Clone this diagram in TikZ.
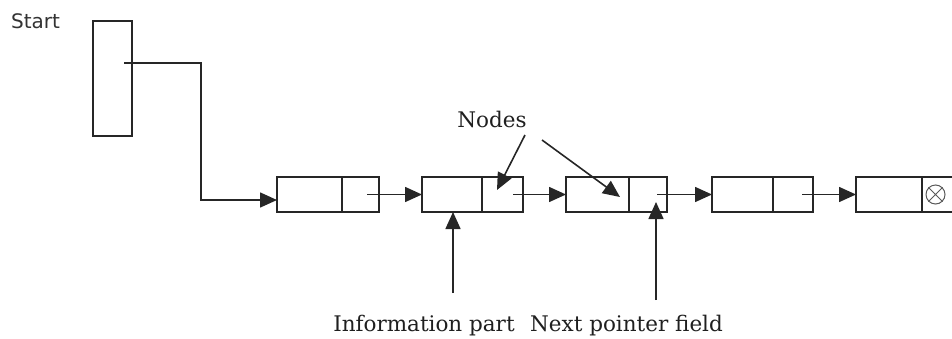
\documentclass[tikz,border=0pt]{standalone}
\usepackage{fontspec}
\setmainfont{DejaVu Serif}
\newfontfamily\startfont{DejaVu Sans}
\usetikzlibrary{arrows.meta}
\begin{document}
\begin{tikzpicture}[x=1pt,y=-1pt,
  ln/.style={line width=1.6pt,draw=black!85},
  cell/.style={ln,rectangle,inner sep=0pt,outer sep=0pt,minimum height=35pt,anchor=north west},
  arr/.style={ln,-{Triangle[length=17pt,width=15pt]}},
  lbl/.style={font=\fontsize{21.5}{25}\selectfont,text=black!88,inner sep=0pt,anchor=base}]
\useasboundingbox (0,0) rectangle (952,338);
\clip (0,0) rectangle (952,338);
% start pointer
\node[cell,minimum width=39pt,minimum height=115pt] (start) at (93,21) {};
\node[font=\startfont\fontsize{20}{24}\selectfont,text=black!80,inner sep=0pt,anchor=base] (startlbl) at (35.5,28) {Start};
% list nodes
\node[cell,minimum width=65pt] (n1i) at (277,177) {};
\node[cell,minimum width=37pt] (n1p) at (342,177) {};
\node[cell,minimum width=60pt] (n2i) at (422,177) {};
\node[cell,minimum width=41pt] (n2p) at (482,177) {};
\node[cell,minimum width=63pt] (n3i) at (566,177) {};
\node[cell,minimum width=38pt] (n3p) at (629,177) {};
\node[cell,minimum width=61pt] (n4i) at (712,177) {};
\node[cell,minimum width=40pt] (n4p) at (773,177) {};
\node[cell,minimum width=66pt] (n5i) at (856,177) {};
\node[cell,minimum width=38pt] (n5p) at (922,177) {};
% null symbol
\node[circle,draw=black!65,line width=1pt,minimum size=19pt,inner sep=0pt] (nul) at (935.5,194.5) {};
\draw[draw=black!65,line width=1pt] (nul.north west) -- (nul.south east) (nul.north east) -- (nul.south west);
% start link
\coordinate (s0) at (124,63);
\draw[arr] (s0) -- (201,63) |- ([yshift=-5.5pt]n1i.west);
% next links
\draw[arr] ([xshift=6.5pt]n1p.center) -- (n2i.west);
\draw[arr] ([xshift=10.5pt]n2p.center) -- (n3i.west);
\draw[arr] ([xshift=9pt]n3p.center) -- (n4i.west);
\draw[arr] ([xshift=9pt]n4p.center) -- (n5i.west);
% Nodes label
\node[lbl] (nodes) at (492,127) {Nodes};
\coordinate (na) at (525,135);
\coordinate (nb) at (542,140);
\coordinate (ta) at (497,190);
\coordinate (tb) at (620,197);
\draw[arr] (na) -- (ta);
\draw[arr] (nb) -- (tb);
% bottom labels
\node[lbl] (info) at (424,331) {Information part};
\node[lbl] (next) at (626.5,331) {Next pointer field};
\coordinate (ia) at (453,293);
\draw[arr] (ia) -- (ia |- n2i.south);
\coordinate (pa) at (656,300);
\coordinate (pt) at (656,202);
\draw[arr] (pa) -- (pt);
\end{tikzpicture}
\end{document}
